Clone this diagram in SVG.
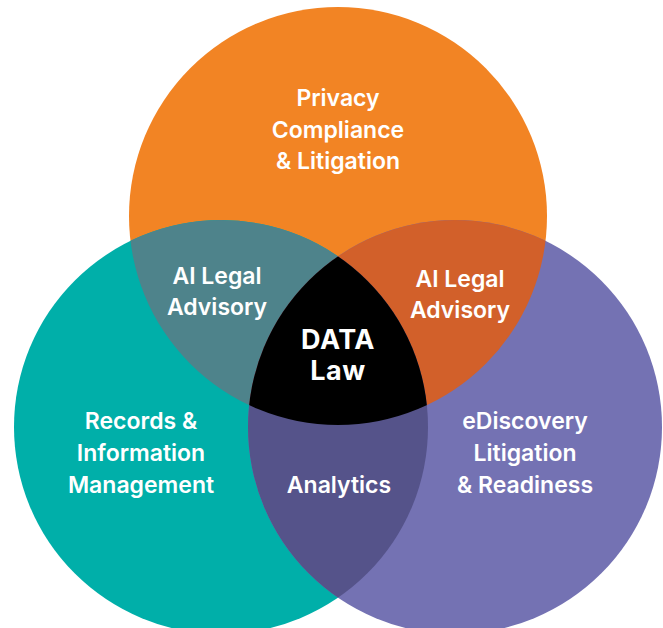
<svg xmlns="http://www.w3.org/2000/svg" width="663" height="628" viewBox="0 0 663 628">
<style>
.t{font-family:Inter,"Liberation Sans",sans-serif;font-weight:600;font-size:23px;fill:#fff;text-anchor:middle;letter-spacing:0px}
.c{font-family:Inter,"Liberation Sans",sans-serif;font-weight:700;font-size:27px;fill:#fff;text-anchor:middle;letter-spacing:0.5px}
</style>
<defs>
<clipPath id="clipO"><circle cx="338" cy="216" r="209"/></clipPath>
<clipPath id="clipT"><circle cx="221" cy="427" r="207"/></clipPath>
<clipPath id="clipP"><circle cx="455" cy="427" r="207"/></clipPath>
</defs>
<rect width="663" height="628" fill="#fff"/>
<g id="privacy">
<circle cx="338" cy="216" r="209" fill="#F28424"/>
<text class="t" x="338" y="106">Privacy</text>
<text class="t" x="338" y="138">Compliance</text>
<text class="t" x="338" y="169">&amp; Litigation</text>
</g>
<g id="records">
<circle cx="221" cy="427" r="207" fill="#00AFA9"/>
</g>
<g id="ediscovery">
<circle cx="455" cy="427" r="207" fill="#7472B3"/>
</g>
<g id="ai-legal-left">
<circle cx="221" cy="427" r="207" fill="#4E838B" clip-path="url(#clipO)"/>
</g>
<g id="ai-legal-right">
<circle cx="455" cy="427" r="207" fill="#D2602A" clip-path="url(#clipO)"/>
</g>
<g id="analytics">
<circle cx="455" cy="427" r="207" fill="#55538A" clip-path="url(#clipT)"/>
</g>
<g id="data-law">
<g clip-path="url(#clipO)"><circle cx="455" cy="427" r="207" fill="#000" clip-path="url(#clipT)"/></g>
<text class="c" x="338" y="349">DATA</text>
<text class="c" x="338" y="380">Law</text>
</g>
<g id="labels">
<text class="t" x="217" y="284">AI Legal</text>
<text class="t" x="217" y="315">Advisory</text>
<text class="t" x="460" y="287">AI Legal</text>
<text class="t" x="460" y="318">Advisory</text>
<text class="t" x="141" y="429">Records &amp;</text>
<text class="t" x="141" y="461">Information</text>
<text class="t" x="141" y="493">Management</text>
<text class="t" x="339" y="493">Analytics</text>
<text class="t" x="525" y="429">eDiscovery</text>
<text class="t" x="525" y="461">Litigation</text>
<text class="t" x="525" y="493">&amp; Readiness</text>
</g>
<g id="connectors"/>
</svg>
